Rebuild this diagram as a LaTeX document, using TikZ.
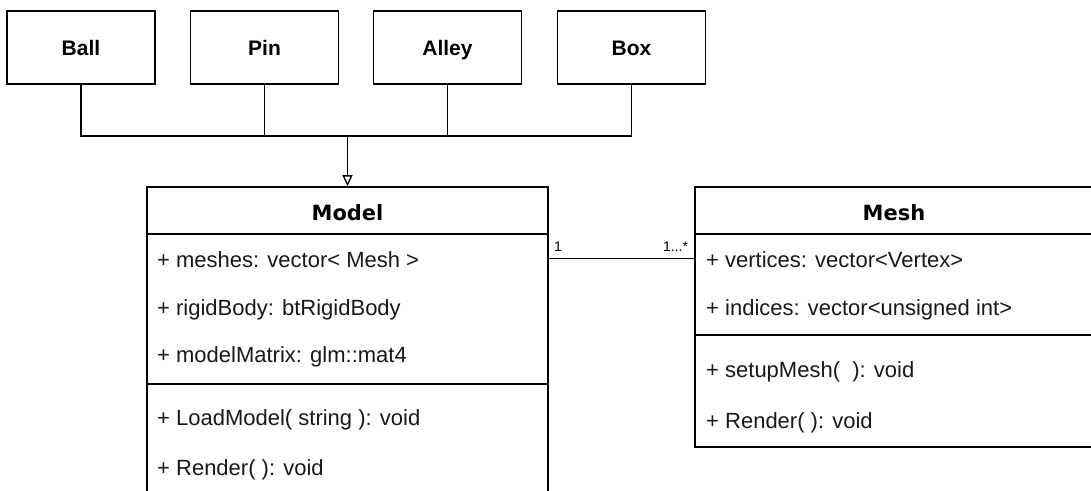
\documentclass[tikz,border=0pt]{standalone}
\usepackage{fontspec}
\setmainfont{Liberation Sans}
\newfontfamily\titlefont{DejaVu Sans}
\usetikzlibrary{arrows.meta,calc}
\tikzset{
  box/.style={draw=black, line width=1.6pt, fill=white, inner sep=0pt},
  topbox/.style={box, minimum width=148pt, minimum height=73pt},
  toptext/.style={anchor=base, inner sep=0pt, font=\fontsize{21}{24}\selectfont\bfseries},
  titletext/.style={anchor=base, inner sep=0pt, font=\titlefont\fontsize{21}{24}\selectfont\bfseries},
  member/.style={anchor=base west, inner sep=0pt, font=\fontsize{22}{26}\selectfont, text=black!90},
  conn/.style={draw=black, line width=1.3pt},
  divider/.style={draw=black, line width=1.6pt},
  mult/.style={inner sep=0pt, font=\fontsize{14}{16}\selectfont}
}
\begin{document}
\begin{tikzpicture}[x=1pt,y=-1pt]
\clip (0,0) rectangle (1091,490);
\fill[white] (0,0) rectangle (1091,490);

% top boxes
\node[topbox] (ball)  at (81,47.5) {};
\node[topbox] (pin)   at (264.5,47.5) {};
\node[topbox] (alley) at (447.5,47.5) {};
\node[topbox] (boxn)  at (631.5,47.5) {};
\node[toptext] (tball)  at (81,55) {Ball};
\node[toptext] (tpin)   at (264.5,55) {Pin};
\node[toptext] (talley) at (447.5,55) {Alley};
\node[toptext] (tbox)   at (631.5,55) {Box};

% class boxes
\node[box, minimum width=401pt, minimum height=313pt] (model) at (347.5,343.5) {};
\node[box, minimum width=405pt, minimum height=260pt] (mesh) at (897.5,317) {};

% dividers
\draw[divider] ($(model.north west)+(0,48)$) coordinate (md1a) -- ($(model.north east)+(0,48)$) coordinate (md1b);
\draw[divider] ($(model.north west)+(0,198)$) coordinate (md2a) -- ($(model.north east)+(0,198)$) coordinate (md2b);
\draw[divider] ($(mesh.north west)+(0,48)$) coordinate (sd1a) -- ($(mesh.north east)+(0,48)$) coordinate (sd1b);
\draw[divider] ($(mesh.north west)+(0,149)$) coordinate (sd2a) -- ($(mesh.north east)+(0,149)$) coordinate (sd2b);

% titles
\node[titletext] (tmodel) at (347.5,220) {Model};
\node[titletext] (tmesh) at (894,220) {Mesh};

% model members
\node[member] (m1) at (157,267) {+ meshes: vector< Mesh >};
\node[member] (m2) at (157,315) {+ rigidBody: btRigidBody};
\node[member] (m3) at (157,362) {+ modelMatrix: glm::mat4};
\node[member] (m4) at (157,425) {+ LoadModel( string ): void};
\node[member] (m5) at (157,475) {+ Render( ): void};

% mesh members
\node[member] (s1) at (706,267) {+ vertices: vector<Vertex>};
\node[member] (s2) at (706,315) {+ indices: vector<unsigned int>};
\node[member] (s3) at (706,377) {+ setupMesh(\ \ ): void};
\node[member] (s4) at (706,428) {+ Render( ): void};

% inheritance connectors
\coordinate (j) at (347.5,136);
\draw[conn] (ball.south) |- (j);
\draw[conn] (pin.south) |- (j);
\draw[conn] (alley.south) |- (j);
\draw[conn] (boxn.south) |- (j);
\draw[conn, -{Triangle[open, length=11pt, width=10pt, line width=1.3pt]}] (j) -- (model.north);

% association
\coordinate (a1) at ($(model.north east)+(0,72)$);
\coordinate (a2) at ($(mesh.north west)+(0,72)$);
\draw[conn] (a1) -- (a2);
\node[mult, anchor=base west] (lm1) at ($(a1)+(5,-7)$) {1};
\node[mult, anchor=base east] (lm2) at ($(a2)+(-6,-7)$) {1...*};
\end{tikzpicture}
\end{document}
